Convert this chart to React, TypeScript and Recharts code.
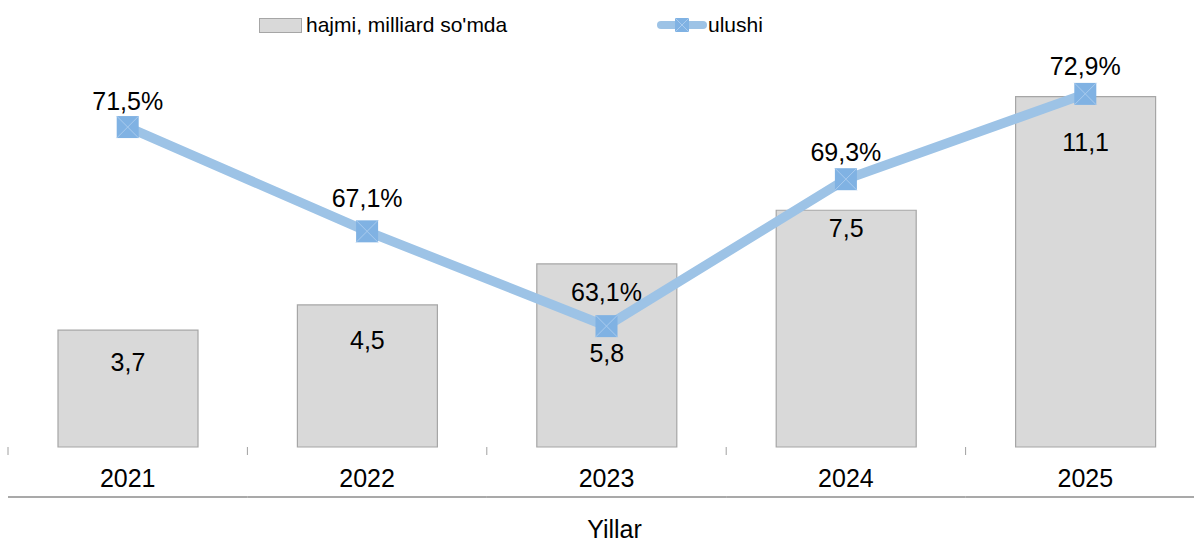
import { Bar, ComposedChart, LabelList, Line, XAxis, YAxis } from 'recharts';

const years = ['2021', '2022', '2023', '2024', '2025'];
const volume = [3.7, 4.5, 5.8, 7.5, 11.1];
const share = [71.5, 67.1, 63.1, 69.3, 72.9];

const data = years.map((year, i) => ({ year, volume: volume[i], share: share[i] }));

// label nudges, px below the bar top / above the marker (hand-placed in the original)
const barLabelDy = [32, 35, 89, 18, 45];
const lineLabelDy = [26, 33, 34, 27, 28];

const W = 1210;
const H = 542;
const M = { top: 60, right: 5, bottom: 45, left: 8 };
const BAND = (W - M.left - M.right) / years.length;

const FONT = '"Liberation Sans", Arial, sans-serif';
const BAR_FILL = '#d9d9d9';
const BAR_STROKE = '#a6a6a6';
const LINE_COLOR = '#9dc3e6';
const MARKER_FILL = '#80b2e3';
const MARKER_X = '#a9cbee';

const fmt = (v: number) => v.toFixed(1).replace('.', ',');

function YearTick(props: any) {
  const { x, y, payload, index } = props;
  const left = x - BAND / 2;
  return (
    <g>
      <line x1={left} y1={y} x2={left} y2={y + 8} stroke="#a0a0a0" strokeWidth={1} />
      {index === years.length - 1 ? (
        <line x1={x + BAND / 2} y1={y} x2={x + BAND / 2} y2={y + 8} stroke="#a0a0a0" />
      ) : null}
      <line x1={left} y1={y + 50} x2={left + BAND} y2={y + 50} stroke="#8c8c8c" strokeWidth={1.5} />
      <text x={x} y={y + 40} textAnchor="middle" fontSize={25} fill="#000" fontFamily={FONT}>
        {payload.value}
      </text>
    </g>
  );
}

function SquareDot(props: any) {
  const { cx, cy } = props;
  if (cx == null || cy == null) return null;
  const s = 11;
  return (
    <g>
      <rect x={cx - s} y={cy - s} width={s * 2} height={s * 2} fill={MARKER_FILL} />
      <line x1={cx - s} y1={cy - s} x2={cx + s} y2={cy + s} stroke={MARKER_X} strokeWidth={1} />
      <line x1={cx - s} y1={cy + s} x2={cx + s} y2={cy - s} stroke={MARKER_X} strokeWidth={1} />
    </g>
  );
}

function BarValue(props: any) {
  const { x, y, width, index, value } = props;
  return (
    <text
      x={x + width / 2}
      y={y + barLabelDy[index] + 9}
      textAnchor="middle"
      fontSize={25}
      fontFamily={FONT}
      fill="#000"
    >
      {fmt(value)}
    </text>
  );
}

function ShareValue(props: any) {
  const { x, y, index, value } = props;
  return (
    <text
      x={x}
      y={y - lineLabelDy[index] + 9}
      textAnchor="middle"
      fontSize={25}
      fontFamily={FONT}
      fill="#000"
    >
      {fmt(value)}%
    </text>
  );
}

export default function App() {
  return (
    <div
      style={{
        position: 'absolute',
        left: 0,
        top: 0,
        width: 1194,
        height: 542,
        overflow: 'hidden',
        background: '#fff',
        fontFamily: FONT,
      }}
    >
      <ComposedChart width={W} height={H} data={data} margin={M}>
        <XAxis
          dataKey="year"
          axisLine={false}
          tickLine={false}
          tickSize={0}
          tickMargin={0}
          height={50}
          interval={0}
          tick={<YearTick />}
          label={{
            value: 'Yillar',
            position: 'bottom',
            offset: 23,
            dx: 8,
            fontSize: 25,
            fill: '#000',
            fontFamily: FONT,
          }}
        />
        <YAxis yAxisId="left" hide domain={[0, 12.26]} />
        <YAxis yAxisId="right" hide orientation="right" domain={[58, 74.33]} />
        <Bar
          yAxisId="left"
          dataKey="volume"
          barSize={140}
          fill={BAR_FILL}
          stroke={BAR_STROKE}
          strokeWidth={1.2}
          isAnimationActive={false}
        >
          <LabelList dataKey="volume" content={<BarValue />} />
        </Bar>
        <Line
          yAxisId="right"
          dataKey="share"
          type="linear"
          stroke={LINE_COLOR}
          strokeWidth={9.5}
          dot={<SquareDot />}
          activeDot={false}
          isAnimationActive={false}
        >
          <LabelList dataKey="share" content={<ShareValue />} />
        </Line>
      </ComposedChart>

      <div
        style={{
          position: 'absolute',
          top: 10,
          left: 0,
          width: 1194,
          height: 30,
          fontSize: 21,
          color: '#000',
        }}
      >
        <div style={{ position: 'absolute', left: 259, top: 0, display: 'flex', alignItems: 'center', height: 30 }}>
          <span
            style={{
              display: 'inline-block',
              width: 41,
              height: 13,
              background: BAR_FILL,
              border: `1px solid ${BAR_STROKE}`,
              marginRight: 4,
            }}
          />
          <span>hajmi, milliard so'mda</span>
        </div>
        <div style={{ position: 'absolute', left: 657, top: 0, display: 'flex', alignItems: 'center', height: 30 }}>
          <svg width={50} height={16} style={{ marginRight: 1 }}>
            <line x1={4} y1={8} x2={46} y2={8} stroke={LINE_COLOR} strokeWidth={8} strokeLinecap="round" />
            <rect x={18} y={1} width={14} height={14} fill={MARKER_FILL} />
            <line x1={18} y1={1} x2={32} y2={15} stroke={MARKER_X} />
            <line x1={18} y1={15} x2={32} y2={1} stroke={MARKER_X} />
          </svg>
          <span>ulushi</span>
        </div>
      </div>
    </div>
  );
}
